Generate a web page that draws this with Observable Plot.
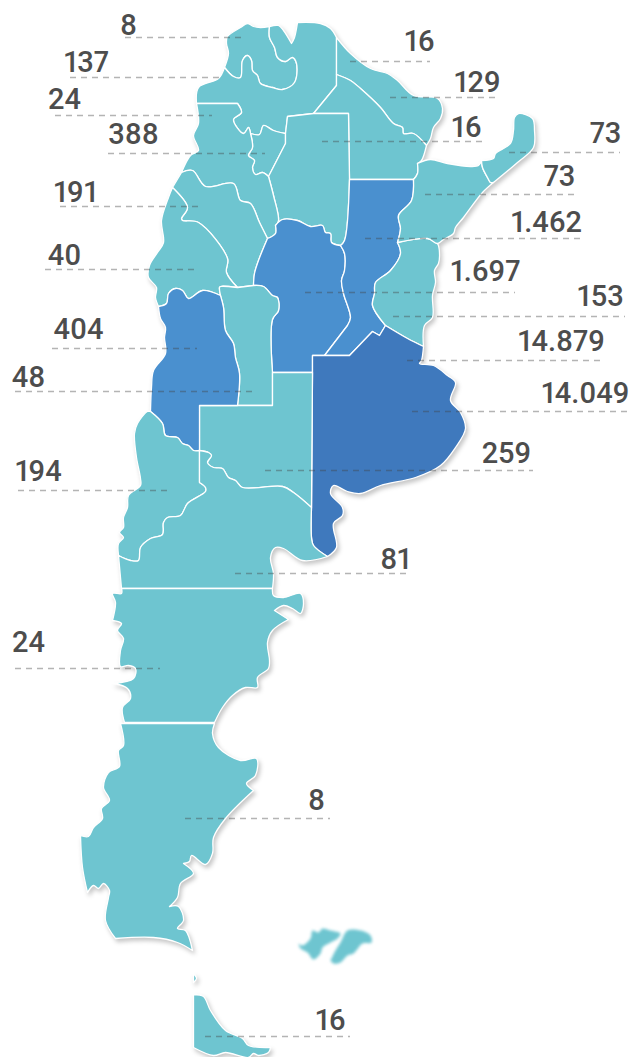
<!DOCTYPE html>
<html><head><meta charset="utf-8">
<script src="https://cdn.jsdelivr.net/npm/d3@7"></script>
<script src="https://cdn.jsdelivr.net/npm/@observablehq/plot@0.6"></script>
<style>html,body{margin:0;padding:0;background:#fff}svg{display:block}</style>
</head><body><div id="chart"></div>
<script>
// Province values, in label order
const provinces = ["Jujuy","Salta","Catamarca","Tucumán","La Rioja","San Juan","Mendoza","San Luis","Neuquén","Chubut","Formosa","Chaco","Santiago del Estero","Misiones","Corrientes","Santa Fe","Córdoba","Entre Ríos","CABA","Buenos Aires","La Pampa","Río Negro","Santa Cruz","Tierra del Fuego"];
const values = [8,137,24,388,191,40,404,48,194,24,16,129,16,73,73,1462,1697,153,14879,14049,259,81,8,16];
const textX = [128,86,64,133,75,64,78,28,38,28,419,477,466,605,559,546,485,600,561,585,506,395,316,330];
const textY = [25,62,99,134,192,255,329,377,471,642,41,82,127,133,176,222,271,296,341,393,453,559,800,1020];
const leaderY = [37,77,115,153,206,269,348,391,490,668,61,97,141,152,194,238,292,316,360,411,470,573,818,1036];
const leaderX1 = [125,70,55,108,60,45,52,15,18,15,350,390,322,509,425,365,305,393,407,412,265,235,185,205];
const leaderX2 = [243,224,212,265,200,197,197,254,168,160,430,500,483,620,575,580,515,625,605,628,533,410,330,350];
const thresholds = [400,10000];
const palette = ["#6ec5d0","#4a90cf","#3f79bd"];

// Shared borders
const jujuySalta = [[224,67],[233,76],[240,77],[242,60],[247,55],[251,60],[252,70],[257,75],[260,83],[272,87],[282,89],[294,82],[296,63],[292,57],[285,61],[277,57],[274,47],[269,37],[269,26]];
const jujuyCoast = [[269,26],[260,27],[253,26],[247,23],[240,27],[227,36],[226,43],[228,53],[224,67]];
const saltaNorth = [[269,26],[278,25],[283,30],[291,43],[294,37],[297,22],[320,23],[330,28],[336,37]];
const saltaEast = [[336,37],[336,74],[336,85],[313,113],[287,116],[285,133]];
const saltaTucuman = [[285,133],[273,130],[263,125],[259,134],[250,133]];
const saltaCatamarca = [[250,133],[248,127],[243,133],[233,119],[241,112],[237,103],[196,103]];
const saltaCoast = [[196,103],[198,87],[218,78],[224,67]];
const formosaChaco = [[336,74],[350,80],[360,88],[380,107],[393,123],[402,127],[403,133],[413,133],[426,145]];
const formosaCoast = [[336,37],[350,53],[370,68],[387,73],[397,80],[413,95],[437,98],[442,108],[440,118],[433,127],[430,138],[426,145]];
const chacoEast = [[426,145],[421,160],[417,163],[417,173],[413,179]];
const chacoSouth = [[413,179],[349,179]];
const chacoWest = [[349,179],[348,113],[313,113]];
const tucumanCatamarca = [[250,133],[252,147],[248,155],[254,160],[252,167],[255,174],[262,172],[268,176]];
const tucumanEast = [[285,133],[285,143],[268,176]];
const santiagoCatamarca = [[268,176],[273,195],[278,220],[275,225]];
const santiagoSouth = [[275,225],[282,219],[297,220],[310,226],[322,225],[325,232],[330,233],[331,242],[340,245]];
const santiagoSantaFe = [[340,245],[344,240],[349,179]];
const catamarcaCordoba = [[275,225],[275,233],[267,238]];
const laRiojaCatamarca = [[181,172],[192,170],[205,186],[233,183],[240,200],[250,203],[259,222],[267,238]];
const catamarcaCoast = [[181,172],[190,155],[198,150],[193,135],[198,123],[196,103]];
const cordobaLaRioja = [[267,238],[258,260],[254,273],[253,285]];
const laRiojaSanJuan = [[172,187],[187,207],[181,218],[182,220],[198,222],[227,258],[226,272],[237,287]];
const sanLuisNorthWest = [[253,285],[237,287]];
const laRiojaCoast = [[172,187],[181,172]];
const sanLuisCordoba = [[253,285],[263,286],[272,295],[277,297],[278,310],[272,319],[272,372]];
const cordobaPampa = [[272,372],[312,372]];
const cordobaBa = [[312,372],[312,355],[324,355]];
const cordobaSantaFe = [[324,355],[347,325],[350,317],[343,293],[341,280],[344,270],[344,253],[340,245]];
const santaFeBa = [[324,355],[349,355],[372,331],[379,335],[385,325]];
const santaFeEast = [[385,325],[372,305],[374,293],[375,282],[390,270],[400,253],[397,242],[400,228],[398,215],[411,200],[413,179]];
const entreRiosCoast = [[397,242],[427,238],[437,243],[439,253],[438,263],[434,270],[435,282],[432,295],[432,317],[424,325],[423,346]];
const entreRiosBa = [[423,346],[407,338],[385,325]];
const corrientesNorth = [[417,163],[430,159],[447,163],[470,166],[478,165],[481,160]];
const corrientesMisiones = [[481,160],[482,167],[487,177],[490,182],[493,182]];
const corrientesCoast = [[493,182],[482,192],[463,217],[455,227],[453,233],[443,239],[437,243]];
const misionesOuter = [[481,160],[493,158],[495,153],[510,143],[513,130],[514,117],[518,113],[532,118],[534,130],[533,147],[517,162],[493,182]];
const baCoast = [[423,346],[421,360],[419,363],[433,365],[447,375],[455,382],[450,400],[460,412],[465,428],[455,447],[440,465],[415,477],[380,485],[360,493],[347,491],[333,485],[330,493],[342,507],[342,515],[333,523],[336,547],[327,556]];
const baRioNegro = [[327,556],[313,545],[311,537],[311,507]];
const baPampa = [[311,507],[312,372]];
const sanLuisPampa = [[272,372],[272,405]];
const sanLuisMendoza = [[237,287],[220,286],[219,287],[220,295],[223,307],[225,330],[233,343],[235,357],[239,373],[237,405]];
const sanLuisSouth = [[272,405],[237,405]];
const mendozaPampa = [[237,405],[199,405],[199,450]];
const mendozaNeuquen = [[199,450],[193,450],[188,445],[182,443],[177,437],[165,435],[162,423],[150,411]];
const mendozaCoast = [[150,411],[151,387],[153,370],[165,353],[164,337],[165,327],[160,318],[158,306]];
const mendozaSanJuan = [[158,306],[166,303],[168,293],[175,288],[182,290],[188,298],[202,290],[220,295]];
const sanJuanCoast = [[158,306],[155,297],[156,287],[148,277],[149,265],[157,252],[163,242],[161,220],[168,197],[172,187]];
const pampaRioNegro = [[311,507],[293,492],[282,486],[242,487],[235,480],[228,477],[222,468],[213,467],[207,462],[211,455],[208,452],[199,450]];
const neuquenRioNegro = [[199,450],[199,482],[205,487],[205,491],[187,503],[180,515],[167,517],[163,522],[162,534],[150,538],[140,547],[138,560],[130,560],[118,555]];
const neuquenCoast = [[118,555],[118,543],[123,537],[119,532],[123,527],[123,517],[127,507],[128,495],[140,485],[140,478],[136,457],[134,433],[137,423],[147,411],[150,411]];
const rioNegroSouth = [[118,555],[121,588],[272,588]];
const rioNegroCoast = [[272,588],[273,573],[270,557],[275,547],[283,548],[302,560],[327,556]];
const chubutOuter = [[121,588],[272,588],[273,595],[283,597],[300,593],[303,603],[300,613],[292,608],[283,605],[274,610],[288,619],[272,630],[267,642],[269,660],[268,668],[257,677],[257,687],[245,687],[232,695],[222,707],[214,722],[124,722],[122,707],[130,698],[127,688],[113,683],[133,678],[135,668],[128,665],[120,666],[120,650],[123,638],[117,630],[121,623],[112,620],[115,602],[112,593],[121,593]];
const santaCruzOuter = [[120,723],[214,723],[212,733],[218,747],[240,760],[256,758],[255,775],[246,783],[253,790],[225,818],[213,837],[212,853],[205,864],[191,855],[189,861],[183,863],[193,873],[180,883],[177,897],[169,906],[178,906],[183,920],[177,928],[185,930],[192,950],[177,942],[153,937],[115,938],[105,920],[108,897],[109,890],[103,883],[98,888],[93,885],[87,892],[82,867],[80,835],[88,836],[93,827],[102,818],[101,808],[109,800],[103,787],[108,772],[119,766],[118,750],[123,745]];
const fuegoOuter = [[193,994],[203,996],[210,1010],[225,1030],[242,1038],[248,1045],[270,1047],[268,1052],[258,1055],[253,1053],[248,1057],[225,1052],[213,1055],[193,1047]];
const fuegoIslet = [[193,973],[196,978],[193,982]];
const malvinasWest = [[298,943],[302,945],[310,938],[312,930],[318,932],[322,928],[330,930],[340,933],[337,938],[330,942],[322,947],[320,953],[313,959],[307,952],[300,948]];
const malvinasEast = [[330,960],[335,950],[340,942],[347,930],[360,930],[370,935],[371,942],[362,943],[353,953],[347,955],[340,962],[333,963]];
// Sharp junctions of the outline, kept unsmoothed
const corners = [[336,37],[336,74],[336,85],[313,113],[348,113],[349,179],[413,179],[287,116],[285,133],[285,143],[268,176],[272,372],[312,372],[312,355],[324,355],[349,355],[372,331],[379,335],[385,325],[347,325],[272,405],[237,405],[199,405],[199,450],[199,482],[311,507],[272,588],[121,588],[118,555],[214,722],[124,722],[120,723],[214,723],[196,103],[237,103],[181,172],[172,187],[269,26],[224,67],[158,306],[150,411],[426,145],[417,163],[397,242],[481,160],[493,182],[423,346],[327,556],[253,285],[237,287],[267,238],[275,225],[340,245],[288,619],[253,790],[169,906],[192,950],[115,938],[113,683],[112,620],[291,43],[297,22],[193,994],[193,1047],[270,1047],[193,973],[193,982],[274,610],[183,863],[87,892],[80,835]];

const rev = a => a.slice().reverse();
const rings = [
  ["Jujuy",[...jujuySalta,...jujuyCoast]],
  ["Salta",[...saltaNorth,...saltaEast,...saltaTucuman,...saltaCatamarca,...saltaCoast,...jujuySalta]],
  ["Formosa",[...formosaCoast,...rev(formosaChaco),[336,37]]],
  ["Chaco",[...formosaChaco,...chacoEast,...chacoSouth,...chacoWest,[336,85],[336,74]]],
  ["Tucumán",[...saltaTucuman,...tucumanCatamarca,...rev(tucumanEast)]],
  ["Santiago del Estero",[[313,113],[348,113],[349,179],...rev(santiagoSantaFe),...rev(santiagoSouth),...rev(santiagoCatamarca),...rev(tucumanEast),[287,116]]],
  ["Catamarca",[...rev(saltaCatamarca),...tucumanCatamarca,...santiagoCatamarca,...catamarcaCordoba,...rev(laRiojaCatamarca),...catamarcaCoast]],
  ["La Rioja",[...laRiojaCatamarca,...cordobaLaRioja,...sanLuisNorthWest,...rev(laRiojaSanJuan),...laRiojaCoast]],
  ["San Juan",[...laRiojaSanJuan,[220,286],[219,287],[220,295],...rev(mendozaSanJuan),...sanJuanCoast]],
  ["Córdoba",[...santiagoSouth,...rev(cordobaSantaFe),...rev(cordobaBa),...rev(cordobaPampa),...rev(sanLuisCordoba),...rev(cordobaLaRioja),...rev(catamarcaCordoba)]],
  ["Santa Fe",[...rev(chacoSouth),...rev(santaFeEast),...rev(santaFeBa),...cordobaSantaFe,...santiagoSantaFe]],
  ["Entre Ríos",[...entreRiosCoast,...entreRiosBa,[372,305],[374,293],[375,282],[390,270],[400,253],[397,242]]],
  ["Corrientes",[...corrientesNorth,...corrientesMisiones,...corrientesCoast,[427,238],[397,242],[400,228],[398,215],[411,200],[413,179],[417,173]]],
  ["Misiones",[...misionesOuter,...rev(corrientesMisiones)]],
  ["Buenos Aires",[[312,355],...santaFeBa,...rev(entreRiosBa).slice(1),...baCoast.slice(1),...baRioNegro.slice(1),...baPampa.slice(1)]],
  ["San Luis",[...sanLuisCordoba,...sanLuisPampa.slice(1),...sanLuisSouth.slice(1),...rev(sanLuisMendoza),[253,285]]],
  ["La Pampa",[[199,405],[272,405],[272,372],...cordobaPampa.slice(1),...rev(baPampa).slice(1),...pampaRioNegro.slice(1)]],
  ["Mendoza",[...sanLuisMendoza.slice(3),...mendozaPampa.slice(1),...mendozaNeuquen.slice(1),...mendozaCoast.slice(1),...mendozaSanJuan.slice(1)]],
  ["Neuquén",[...neuquenRioNegro,...neuquenCoast,...rev(mendozaNeuquen).slice(1)]],
  ["Río Negro",[...neuquenRioNegro,...rioNegroSouth.slice(1),...rioNegroCoast.slice(1),...baRioNegro.slice(1),...pampaRioNegro.slice(1)]],
  ["Chubut",chubutOuter],
  ["Santa Cruz",santaCruzOuter],
  ["Tierra del Fuego",fuegoOuter],
  ["Tierra del Fuego islet",fuegoIslet]
];
const cornerKeys = new Set(corners.map(String));
const valueOf = n => values[provinces.indexOf(n.replace(" islet",""))];
const toRows = (name,ring,value) => [...ring,ring[0]].flatMap(([x,y]) => {
  const row = {name,x,y,value};
  return cornerKeys.has(String([x,y])) ? [row,row] : [row];
});
const rows = rings.flatMap(([name,ring]) => toRows(name,ring,valueOf(name)));
const isles = [["Malvinas O",malvinasWest],["Malvinas E",malvinasEast]].flatMap(([name,ring]) => toRows(name,ring,8));

const fmt = d3.formatLocale({decimal:",",thousands:".",grouping:[3],currency:["",""]}).format(",d");
const labels = provinces.map((name,i) => ({name,label:fmt(values[i]),tx:textX[i],ty:textY[i],ly:leaderY[i],x1:leaderX1[i],x2:leaderX2[i]}));

const plot = Plot.plot({
  width:630,height:1057,margin:0,
  x:{domain:[0,630],range:[0,630],axis:null},
  y:{domain:[0,1057],range:[0,1057],axis:null},
  color:{type:"threshold",domain:thresholds,range:palette},
  style:{background:"#fff",overflow:"visible"},
  marks:[
    Plot.line(rows,{x:"x",y:"y",z:"name",fill:"value",stroke:"#fff",strokeWidth:1.3,strokeLinejoin:"round",curve:"catmull-rom"}),
    Plot.line(isles,{x:"x",y:"y",z:"name",fill:"value",stroke:"none",curve:"catmull-rom"}),
    Plot.ruleY(labels,{y:"ly",x1:"x1",x2:"x2",stroke:"#444",strokeOpacity:0.4,strokeWidth:1.4,strokeDasharray:"6,5"}),
    Plot.text(labels,{x:"tx",y:"ty",text:"label",fill:"#4d4d4d",fontSize:29,fontWeight:500,fontFamily:"Roboto",fontVariant:"proportional-nums",textAnchor:"middle"})
  ]
});
const lines = plot.querySelectorAll('g[aria-label="line"]');
lines[0].style.filter = "drop-shadow(2px 3px 2px rgba(0,0,0,.22))";
lines[1].style.filter = "blur(1.5px)";
document.getElementById("chart").append(plot);
</script></body></html>
